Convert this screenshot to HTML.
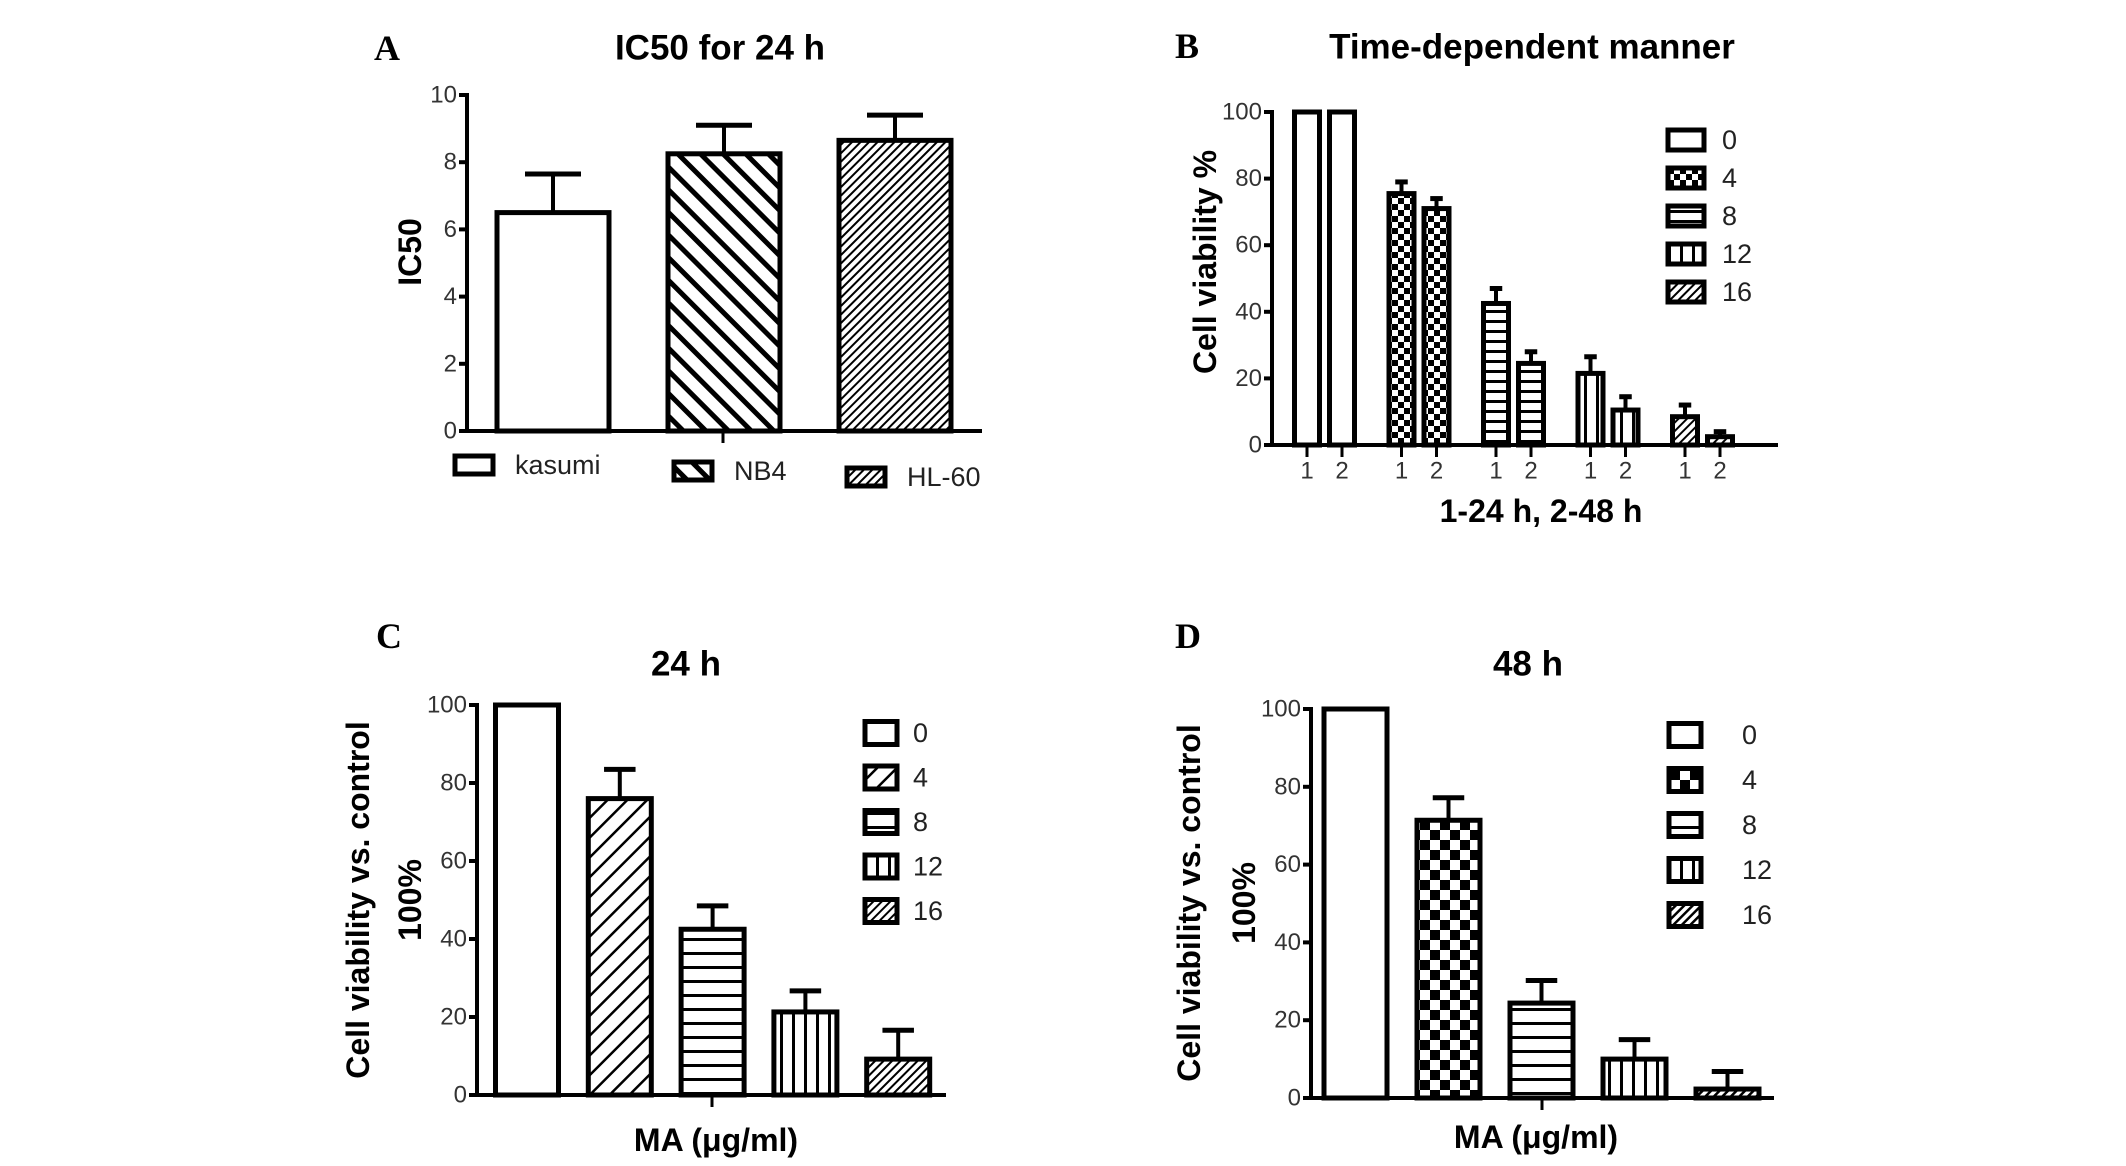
<!DOCTYPE html>
<html><head><meta charset="utf-8"><title>MA viability figure</title>
<style>
html,body{margin:0;padding:0;background:#fff;}
svg{display:block;}
.tick{font-family:"Liberation Sans Narrow","Liberation Sans",sans-serif;font-size:24px;fill:#333;}
.title{font-family:"Liberation Sans",sans-serif;font-weight:bold;font-size:35px;fill:#000;}
.axt{font-family:"Liberation Sans",sans-serif;font-weight:bold;font-size:32px;fill:#000;}
.letter{font-family:"Liberation Serif",serif;font-weight:bold;font-size:36px;fill:#000;}
.leg{font-family:"Liberation Sans Narrow","Liberation Sans",sans-serif;font-size:27px;fill:#222;}
</style></head>
<body>
<svg id="fig" width="2126" height="1166" viewBox="0 0 2126 1166" xmlns="http://www.w3.org/2000/svg">
<defs>
<pattern id="pBackThick" patternUnits="userSpaceOnUse" width="16" height="16" patternTransform="rotate(-45)"><rect x="0" y="0" width="5" height="16" fill="#000"/></pattern>
<pattern id="pFine" patternUnits="userSpaceOnUse" width="6" height="6" patternTransform="rotate(45)"><rect x="0" y="0" width="2" height="6" fill="#000"/></pattern>
<pattern id="pFwd" patternUnits="userSpaceOnUse" width="14" height="14" patternTransform="rotate(45)"><rect x="0" y="0" width="2.5" height="14" fill="#000"/></pattern>
<pattern id="pCheckS" patternUnits="userSpaceOnUse" width="12" height="12"><rect width="6" height="6" fill="#000"/><rect x="6" y="6" width="6" height="6" fill="#000"/></pattern>
<pattern id="pCheckL" patternUnits="userSpaceOnUse" width="20" height="20"><rect width="10" height="10" fill="#000"/><rect x="10" y="10" width="10" height="10" fill="#000"/></pattern>
<pattern id="pHorS" patternUnits="userSpaceOnUse" width="10" height="10"><rect y="0" width="10" height="3" fill="#000"/></pattern>
<pattern id="pHorL" patternUnits="userSpaceOnUse" width="14" height="14"><rect y="0" width="14" height="3" fill="#000"/></pattern>
<pattern id="pVerS" patternUnits="userSpaceOnUse" width="12" height="12"><rect x="0" width="3" height="12" fill="#000"/></pattern>
<pattern id="pVerL" patternUnits="userSpaceOnUse" width="12" height="12"><rect x="0" width="3" height="12" fill="#000"/></pattern>
<pattern id="pDots" patternUnits="userSpaceOnUse" width="6" height="6" patternTransform="rotate(45)"><rect x="0" y="0" width="2.5" height="6" fill="#000"/></pattern>
</defs>
</svg>
<script>
// ---- Panel A data ----
const aCategories = ['kasumi', 'NB4', 'HL-60'];
const aValues = [6.5, 8.25, 8.65];
const aErrors = [1.15, 0.85, 0.75];
const aTicks = [0, 2, 4, 6, 8, 10];
// ---- Panel B data ----
const bGroups = ['0', '4', '8', '12', '16'];
const bValues24 = [100, 75.5, 42.5, 21.5, 8.5];
const bErrors24 = [0, 3.5, 4.5, 5, 3.5];
const bValues48 = [100, 71, 24.5, 10.5, 2.5];
const bErrors48 = [0, 3, 3.5, 4, 1.5];
const bTimeLabels = ['1', '2'];
const pctTicks = [0, 20, 40, 60, 80, 100];
// ---- Panel C data ----
const cDoses = ['0', '4', '8', '12', '16'];
const cValues = [100, 76, 42.5, 21.3, 9.2];
const cErrors = [0, 7.5, 6, 5.4, 7.4];
// ---- Panel D data ----
const dDoses = ['0', '4', '8', '12', '16'];
const dValues = [100, 71.4, 24.4, 10, 2.3];
const dErrors = [0, 5.8, 5.8, 5, 4.5];

const NS = 'http://www.w3.org/2000/svg';
const svg = document.getElementById('fig');
function mk(tag, attrs, parent) {
  const e = document.createElementNS(NS, tag);
  for (const k in attrs) e.setAttribute(k, attrs[k]);
  (parent || svg).appendChild(e);
  return e;
}
function txt(s, x, y, cls, anchor, parent, rot) {
  const t = mk('text', {x: x, y: y, class: cls, 'text-anchor': anchor || 'middle', 'dominant-baseline': 'central'}, parent);
  if (rot) t.setAttribute('transform', 'rotate(-90 ' + x + ' ' + y + ')');
  t.textContent = s;
  return t;
}
function yScale(y0px, yTopPx, max) { return v => y0px - (v / max) * (y0px - yTopPx); }

function axes(g, ax, y0, x1, ys, ticks, midTickX) {
  const yAxis = mk('line', {x1: ax, y1: ys(ticks[ticks.length - 1]) - 2, x2: ax, y2: y0 + 2, stroke: '#000', 'stroke-width': 4}, g);
  
  
  const xAxis = mk('line', {x1: ax - 8, y1: y0, x2: x1, y2: y0, stroke: '#000', 'stroke-width': 4}, g);
  
  
  ticks.forEach(t => {
    mk('line', {x1: ax - 8, y1: ys(t), x2: ax, y2: ys(t), stroke: '#000', 'stroke-width': 4}, g);
    const lbl = txt(String(t), ax - 10, ys(t), 'tick', 'end', g);
    
    
  });
  if (midTickX) mk('line', {x1: midTickX, y1: y0, x2: midTickX, y2: y0 + 12, stroke: '#000', 'stroke-width': 3}, g);
}
function bar(g, cx, w, v, err, ys, fill, name) {
  const top = ys(v), y0 = ys(0);
  const r = mk('rect', {x: cx - w / 2, y: top, width: w, height: y0 - top, fill: fill, stroke: '#000', 'stroke-width': 5}, g);
  
  
  if (err > 0) {
    const e = mk('g', {}, g);
    
    
    mk('line', {x1: cx, y1: top, x2: cx, y2: ys(v + err), stroke: '#000', 'stroke-width': 4}, e);
    mk('line', {x1: cx - w * 0.25, y1: ys(v + err), x2: cx + w * 0.25, y2: ys(v + err), stroke: '#000', 'stroke-width': 5}, e);
  }
}
function legendEntry(g, x, y, w, h, fill, label, tx) {
  const le = mk('g', {}, g);
  
  
  mk('rect', {x: x, y: y - h / 2, width: w, height: h, fill: fill, stroke: '#000', 'stroke-width': 5}, le);
  txt(label, tx, y, 'leg', 'start', le);
}

// ===== Panel A =====
(function () {
  const g = mk('g', {});
  
  
  const ys = yScale(431, 95, 10);
  const L = txt('A', 387, 48, 'letter', 'middle', g);
  
  
  const T = txt('IC50 for 24 h', 720, 48, 'title', 'middle', g);
  
  
  const Y = txt('IC50', 410, 252, 'axt', 'middle', g, true);
  
  
  const fills = ['#fff', 'url(#pBackThick)', 'url(#pFine)'];
  aCategories.forEach((c, i) => {
    bar(g, 553 + i * 171, 112, aValues[i], aErrors[i], ys, fills[i], 'bar-' + c.toLowerCase());
  });
  axes(g, 467, 431, 982, ys, aTicks, 723);
  const legX = [455, 674, 847], legY = [465, 471, 477];
  const lg = mk('g', {}, g);
  
  
  aCategories.forEach((c, i) => legendEntry(lg, legX[i], legY[i], 38, 18, fills[i], c, legX[i] + 60));
})();

// ===== Panel B =====
(function () {
  const g = mk('g', {});
  
  
  const ys = yScale(445, 112, 100);
  const L = txt('B', 1187, 46, 'letter', 'middle', g);
  
  
  const T = txt('Time-dependent manner', 1532, 47, 'title', 'middle', g);
  
  
  const Y = txt('Cell viability %', 1205, 262, 'axt', 'middle', g, true);
  
  
  const X = txt('1-24 h, 2-48 h', 1541, 511, 'axt', 'middle', g);
  
  
  const fills = ['#fff', 'url(#pCheckS)', 'url(#pHorS)', 'url(#pVerS)', 'url(#pFine)'];
  bGroups.forEach((gr, i) => {
    const c1 = 1307 + i * 94.5, c2 = c1 + 35;
    bar(g, c1, 25, bValues24[i], bErrors24[i], ys, fills[i], 'bar-dose' + gr + '-24h');
    bar(g, c2, 25, bValues48[i], bErrors48[i], ys, fills[i], 'bar-dose' + gr + '-48h');
    [c1, c2].forEach((cx, j) => {
      mk('line', {x1: cx, y1: 445, x2: cx, y2: 457, stroke: '#000', 'stroke-width': 3}, g);
      const tl = txt(bTimeLabels[j], cx, 471, 'tick', 'middle', g);
      
      
    });
  });
  axes(g, 1272, 445, 1778, ys, pctTicks, null);
  const lg = mk('g', {}, g);
  
  
  bGroups.forEach((gr, i) => legendEntry(lg, 1668, 140 + i * 38, 36, 20, fills[i], gr, 1722));
})();

// ===== Panel C =====
(function () {
  const g = mk('g', {});
  
  
  const ys = yScale(1095, 705, 100);
  const L = txt('C', 389, 636, 'letter', 'middle', g);
  
  
  const T = txt('24 h', 686, 664, 'title', 'middle', g);
  
  
  const Y = txt('Cell viability vs. control', 358, 900, 'axt', 'middle', g, true);
  
  
  const Y2 = txt('100%', 410, 900, 'axt', 'middle', g, true);
  
  
  const X = txt('MA (μg/ml)', 716, 1140, 'axt', 'middle', g);
  
  
  const fills = ['#fff', 'url(#pFwd)', 'url(#pHorL)', 'url(#pVerL)', 'url(#pFine)'];
  cDoses.forEach((d, i) => bar(g, 527 + i * 92.8, 63, cValues[i], cErrors[i], ys, fills[i], 'bar-dose' + d));
  axes(g, 477, 1095, 946, ys, pctTicks, 712);
  const lg = mk('g', {}, g);
  
  
  cDoses.forEach((d, i) => legendEntry(lg, 865, 733 + i * 44.5, 32, 23, fills[i], d, 913));
})();

// ===== Panel D =====
(function () {
  const g = mk('g', {});
  
  
  const ys = yScale(1098, 709, 100);
  const L = txt('D', 1188, 636, 'letter', 'middle', g);
  
  
  const T = txt('48 h', 1528, 664, 'title', 'middle', g);
  
  
  const Y = txt('Cell viability vs. control', 1189, 903, 'axt', 'middle', g, true);
  
  
  const Y2 = txt('100%', 1244, 903, 'axt', 'middle', g, true);
  
  
  const X = txt('MA (μg/ml)', 1536, 1137, 'axt', 'middle', g);
  
  
  const fills = ['#fff', 'url(#pCheckL)', 'url(#pHorL)', 'url(#pVerL)', 'url(#pDots)'];
  dDoses.forEach((d, i) => bar(g, 1355.5 + i * 93, 63, dValues[i], dErrors[i], ys, fills[i], 'bar-dose' + d));
  axes(g, 1311, 1098, 1774, ys, pctTicks, 1542);
  const lg = mk('g', {}, g);
  
  
  dDoses.forEach((d, i) => legendEntry(lg, 1669, 735 + i * 45, 32, 23, fills[i], d, 1742));
})();
</script>
</body></html>
